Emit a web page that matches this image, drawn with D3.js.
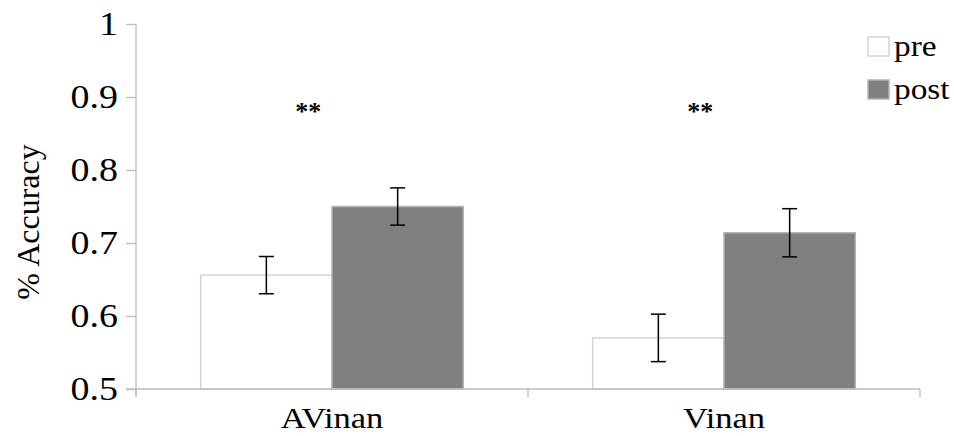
<!DOCTYPE html>
<html>
<head>
<meta charset="utf-8">
<script src="https://cdn.jsdelivr.net/npm/d3@7"></script>
<style>
  html, body { margin: 0; padding: 0; background: #fff; }
  svg { display: block; font-family: "Liberation Serif", "Times New Roman", serif; }
</style>
</head>
<body>
<svg id="chart" width="954" height="436"></svg>
<script>
// ---- data ----
const categories = ["AVinan", "Vinan"];
const seriesNames = ["pre", "post"];
const preValues = [0.656, 0.570];
const postValues = [0.750, 0.714];
const preErrors = [0.0255, 0.0325];
const postErrors = [0.0255, 0.033];
const significance = ["**", "**"];
const yTicks = [0.5, 0.6, 0.7, 0.8, 0.9, 1];

const colors = { pre: "#ffffff", post: "#808080" };
const strokes = { pre: "#d4d4d4", post: "#b4b4b4" };

const svg = d3.select("#chart");
const plotLeft = 136, plotRight = 920, plotTop = 24, plotBottom = 389;
const stretch = 1.15; // horizontal stretch of the lettering

const x = d3.scaleBand().domain(categories).range([plotLeft, plotRight])
  .paddingInner(0.33).paddingOuter(0.165);
const xs = d3.scaleBand().domain(seriesNames).range([0, x.bandwidth()]).padding(0);
const y = d3.scaleLinear().domain([0.5, 1]).range([plotBottom, plotTop]);

const rows = categories.map((c, i) => ({
  cat: c,
  bars: [
    { s: "pre", v: preValues[i], e: preErrors[i] },
    { s: "post", v: postValues[i], e: postErrors[i] }
  ],
  sig: significance[i]
}));

const axisColor = "#bdbdbd";

// y axis
const yAxis = d3.axisLeft(y).tickValues(yTicks).tickSize(10)
  .tickFormat(d3.format("~g"));
const gy = svg.append("g").attr("transform", `translate(${plotLeft},0)`).call(yAxis);
gy.select(".domain").remove();
gy.selectAll(".tick line").attr("stroke", axisColor).attr("stroke-width", 1.3);
gy.selectAll(".tick text")
  .attr("x", -18 / stretch).attr("dy", "0.32em")
  .attr("transform", `scale(${stretch},1)`)
  .attr("fill", "#000").style("font-size", "33px")
  .style("font-family", "'Liberation Serif', serif");
svg.append("line").attr("x1", plotLeft).attr("x2", plotLeft)
  .attr("y1", plotTop).attr("y2", plotBottom + 8)
  .attr("stroke", axisColor).attr("stroke-width", 1.3);

// bars
const groups = svg.append("g").selectAll("g").data(rows).join("g")
  .attr("transform", d => `translate(${x(d.cat)},0)`);

groups.selectAll("rect").data(d => d.bars).join("rect")
  .attr("x", d => xs(d.s))
  .attr("width", xs.bandwidth())
  .attr("y", d => y(d.v))
  .attr("height", d => y(0.5) - y(d.v))
  .attr("fill", d => colors[d.s])
  .attr("stroke", d => strokes[d.s])
  .attr("stroke-width", 1.5);

// error bars
const eb = groups.selectAll("g.err").data(d => d.bars).join("g").attr("class", "err");
eb.append("line")
  .attr("x1", d => xs(d.s) + xs.bandwidth() / 2)
  .attr("x2", d => xs(d.s) + xs.bandwidth() / 2)
  .attr("y1", d => y(d.v + d.e)).attr("y2", d => y(d.v - d.e))
  .attr("stroke", "#000").attr("stroke-width", 1.5);
eb.selectAll("line.cap").data(d => [
  { cx: xs(d.s) + xs.bandwidth() / 2, yy: y(d.v + d.e) },
  { cx: xs(d.s) + xs.bandwidth() / 2, yy: y(d.v - d.e) }
]).join("line").attr("class", "cap")
  .attr("x1", d => d.cx - 7.5).attr("x2", d => d.cx + 7.5)
  .attr("y1", d => d.yy).attr("y2", d => d.yy)
  .attr("stroke", "#000").attr("stroke-width", 1.5);

// x axis
svg.append("line").attr("x1", plotLeft - 10).attr("x2", plotRight)
  .attr("y1", plotBottom).attr("y2", plotBottom)
  .attr("stroke", axisColor).attr("stroke-width", 1.3);
const boundaries = d3.range(categories.length + 1).map(i => plotLeft + i * x.step());
svg.append("g").selectAll("line").data(boundaries).join("line")
  .attr("x1", d => d).attr("x2", d => d)
  .attr("y1", plotBottom).attr("y2", plotBottom + 8)
  .attr("stroke", axisColor).attr("stroke-width", 1.3);

svg.append("g").selectAll("text").data(categories).join("text")
  .attr("transform", d => `translate(${x(d) + x.bandwidth() / 2},428) scale(${stretch},1)`)
  .attr("text-anchor", "middle")
  .style("font-size", "30px")
  .text(d => d);

// significance markers
svg.append("g").selectAll("text").data(rows).join("text")
  .attr("x", d => x(d.cat) + x.bandwidth() * 0.41)
  .attr("y", y(0.868))
  .attr("text-anchor", "middle")
  .style("font-size", "26px").style("font-weight", "bold")
  .text(d => d.sig);

// y title
svg.append("text")
  .attr("transform", `translate(39,222) rotate(-90)`)
  .attr("text-anchor", "middle")
  .style("font-size", "32px")
  .text("% Accuracy");

// legend
const lg = svg.append("g").selectAll("g").data(seriesNames).join("g")
  .attr("transform", (d, i) => `translate(868,${37 + i * 43})`);
lg.append("rect").attr("width", 21).attr("height", 19)
  .attr("fill", d => colors[d]).attr("stroke", d => strokes[d]).attr("stroke-width", 1.5);
lg.append("text")
  .attr("transform", `translate(26,19) scale(${stretch},1)`)
  .style("font-size", "29px").text(d => d);
</script>
</body>
</html>
